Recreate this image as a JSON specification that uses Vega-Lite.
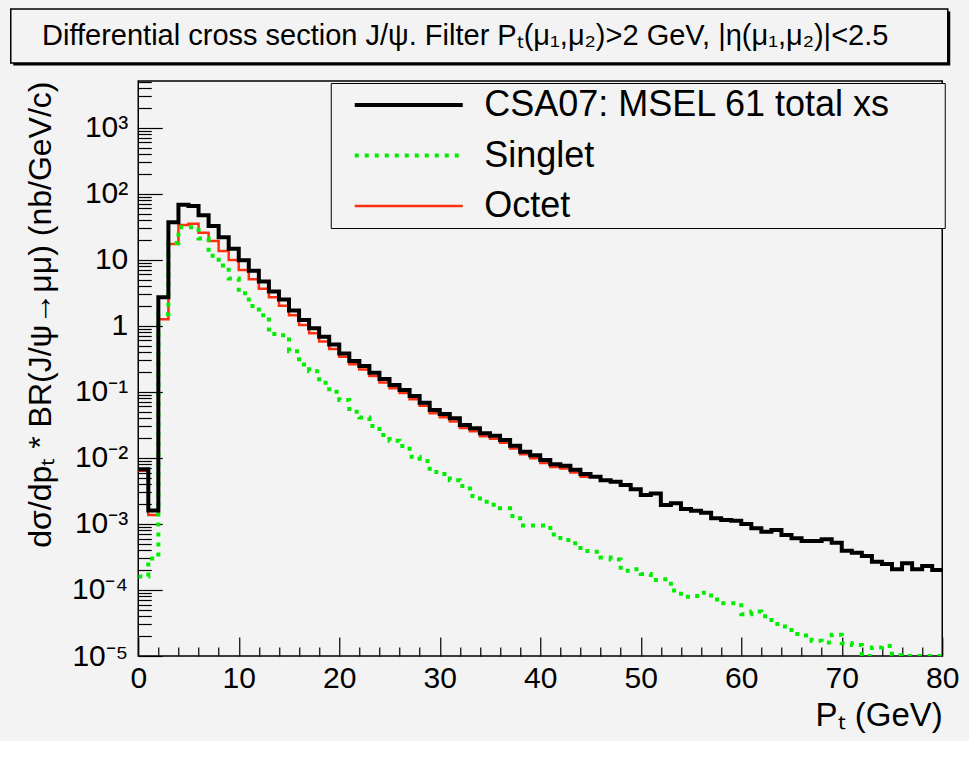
{
  "$schema": "https://vega.github.io/schema/vega-lite/v6.json",
  "background": "#f3f3f3",
  "padding": {"left": 9.25, "top": 8, "right": 0, "bottom": 8},
  "spacing": 14,
  "config": {
    "font": "Liberation Sans",
    "view": {"stroke": "#000000", "strokeWidth": 1.5, "fill": null},
    "axis": {"labelColor": "#000000", "titleColor": "#000000", "tickColor": "#000000", "titleFontWeight": "normal", "grid": false, "domain": false, "labelFont": "Liberation Sans", "titleFont": "Liberation Sans"},
    "legend": {"orient": "none", "legendX": 192.5, "legendY": 74, "fillColor": "#f3f3f3", "strokeColor": "#000000", "padding": 4, "symbolType": "stroke", "symbolSize": 11664, "symbolStrokeWidth": 4, "symbolOffset": 56, "labelFontSize": 36, "labelFont": "Liberation Sans", "labelColor": "#000000", "labelOffset": 57.5, "rowPadding": 14.5, "labelLimit": 0}
  },
  "vconcat": [
    {
      "width": 937,
      "height": 54,
      "data": {"values": [{"t": "Differential cross section J/ψ. Filter Pₜ(μ₁,μ₂)>2 GeV, |η(μ₁,μ₂)|<2.5"}]},
      "view": {"stroke": null},
      "encoding": {
        "x": {"datum": 0, "type": "quantitative", "scale": {"domain": [0, 1], "range": [-127.5, 809.5], "nice": false, "zero": false}, "axis": null},
        "x2": {"datum": 1},
        "y": {"datum": 0, "type": "quantitative", "scale": {"domain": [0, 1], "nice": false, "zero": false}, "axis": null},
        "y2": {"datum": 1}
      },
      "layer": [
        {"mark": {"type": "rect", "fill": "#000000", "xOffset": 2.5, "x2Offset": 2.5, "yOffset": 2.5, "y2Offset": 2.5}},
        {"mark": {"type": "rect", "fill": "#f3f3f3", "stroke": "#000000", "strokeWidth": 1.5}},
        {"mark": {"type": "text", "fontSize": 29, "font": "Liberation Sans", "color": "#000000", "dx": -14},
          "encoding": {"x": {"datum": 0.5, "type": "quantitative"}, "y": {"datum": 0.5, "type": "quantitative"}, "x2": null, "y2": null, "text": {"field": "t", "type": "nominal"}}}
      ]
    },
    {
      "width": 804,
      "height": 575,
      "data": {"values": [
        {"lo":0,"hi":1,"total":0.0067,"singlet":0.00016,"octet":0.0064},
        {"lo":1,"hi":2,"total":0.0016,"singlet":0.0003,"octet":0.00136},
        {"lo":2,"hi":3,"total":2.7,"singlet":1.5,"octet":1.26},
        {"lo":3,"hi":4,"total":37,"singlet":18,"octet":17.3},
        {"lo":4,"hi":5,"total":68,"singlet":31,"octet":33.6},
        {"lo":5,"hi":6,"total":65,"singlet":31,"octet":35.2},
        {"lo":6,"hi":7,"total":47,"singlet":21,"octet":25.7},
        {"lo":7,"hi":8,"total":32.5,"singlet":11.5,"octet":19.2},
        {"lo":8,"hi":9,"total":21.9,"singlet":8.2,"octet":13.6},
        {"lo":9,"hi":10,"total":14.7,"singlet":5.2,"octet":9.9},
        {"lo":10,"hi":11,"total":9.8,"singlet":3.1,"octet":7.0},
        {"lo":11,"hi":12,"total":6.8,"singlet":2.0,"octet":5.06},
        {"lo":12,"hi":13,"total":4.7,"singlet":1.45,"octet":3.65},
        {"lo":13,"hi":14,"total":3.3,"singlet":0.75,"octet":2.7},
        {"lo":14,"hi":15,"total":2.5,"singlet":0.72,"octet":2.02},
        {"lo":15,"hi":16,"total":1.7,"singlet":0.41,"octet":1.44},
        {"lo":16,"hi":17,"total":1.22,"singlet":0.26,"octet":1.03},
        {"lo":17,"hi":18,"total":0.92,"singlet":0.205,"octet":0.77},
        {"lo":18,"hi":19,"total":0.68,"singlet":0.137,"octet":0.58},
        {"lo":19,"hi":20,"total":0.52,"singlet":0.1,"octet":0.445},
        {"lo":20,"hi":21,"total":0.38,"singlet":0.075,"octet":0.34},
        {"lo":21,"hi":22,"total":0.293,"singlet":0.05,"octet":0.262},
        {"lo":22,"hi":23,"total":0.246,"singlet":0.041,"octet":0.218},
        {"lo":23,"hi":24,"total":0.195,"singlet":0.0304,"octet":0.174},
        {"lo":24,"hi":25,"total":0.156,"singlet":0.0222,"octet":0.139},
        {"lo":25,"hi":26,"total":0.127,"singlet":0.0182,"octet":0.113},
        {"lo":26,"hi":27,"total":0.107,"singlet":0.0151,"octet":0.096},
        {"lo":27,"hi":28,"total":0.0865,"singlet":0.0104,"octet":0.077},
        {"lo":28,"hi":29,"total":0.0686,"singlet":0.009,"octet":0.0615},
        {"lo":29,"hi":30,"total":0.053,"singlet":0.0061,"octet":0.0475},
        {"lo":30,"hi":31,"total":0.046,"singlet":0.0057,"octet":0.0412},
        {"lo":31,"hi":32,"total":0.0398,"singlet":0.0046,"octet":0.0356},
        {"lo":32,"hi":33,"total":0.0315,"singlet":0.00375,"octet":0.0284},
        {"lo":33,"hi":34,"total":0.028,"singlet":0.00265,"octet":0.0252},
        {"lo":34,"hi":35,"total":0.0236,"singlet":0.00217,"octet":0.0213},
        {"lo":35,"hi":36,"total":0.0217,"singlet":0.00195,"octet":0.0195},
        {"lo":36,"hi":37,"total":0.0187,"singlet":0.00172,"octet":0.0169},
        {"lo":37,"hi":38,"total":0.0153,"singlet":0.00132,"octet":0.0139},
        {"lo":38,"hi":39,"total":0.0124,"singlet":0.00095,"octet":0.0113},
        {"lo":39,"hi":40,"total":0.011,"singlet":0.00095,"octet":0.0099},
        {"lo":40,"hi":41,"total":0.0093,"singlet":0.00095,"octet":0.0084},
        {"lo":41,"hi":42,"total":0.008,"singlet":0.00069,"octet":0.0073},
        {"lo":42,"hi":43,"total":0.0076,"singlet":0.00057,"octet":0.0069},
        {"lo":43,"hi":44,"total":0.0066,"singlet":0.00051,"octet":0.006},
        {"lo":44,"hi":45,"total":0.0057,"singlet":0.00039,"octet":0.0052},
        {"lo":45,"hi":46,"total":0.0052,"singlet":0.00038},
        {"lo":46,"hi":47,"total":0.0046,"singlet":0.00031},
        {"lo":47,"hi":48,"total":0.00435,"singlet":0.00029},
        {"lo":48,"hi":49,"total":0.0039,"singlet":0.000196},
        {"lo":49,"hi":50,"total":0.00334,"singlet":0.000205},
        {"lo":50,"hi":51,"total":0.00274,"singlet":0.000175},
        {"lo":51,"hi":52,"total":0.0029,"singlet":0.000142},
        {"lo":52,"hi":53,"total":0.00194,"singlet":0.000145},
        {"lo":53,"hi":54,"total":0.00205,"singlet":0.000098},
        {"lo":54,"hi":55,"total":0.00168,"singlet":0.000079},
        {"lo":55,"hi":56,"total":0.00158,"singlet":0.000081},
        {"lo":56,"hi":57,"total":0.00148,"singlet":0.000091},
        {"lo":57,"hi":58,"total":0.00122,"singlet":0.000072},
        {"lo":58,"hi":59,"total":0.00115,"singlet":0.000063},
        {"lo":59,"hi":60,"total":0.00112,"singlet":0.000063},
        {"lo":60,"hi":61,"total":0.001,"singlet":0.000043},
        {"lo":61,"hi":62,"total":0.00086,"singlet":0.000047},
        {"lo":62,"hi":63,"total":0.00076,"singlet":0.00004},
        {"lo":63,"hi":64,"total":0.00081,"singlet":0.0000305},
        {"lo":64,"hi":65,"total":0.00068,"singlet":0.000028},
        {"lo":65,"hi":66,"total":0.000605,"singlet":0.0000215},
        {"lo":66,"hi":67,"total":0.00055,"singlet":0.0000205},
        {"lo":67,"hi":68,"total":0.00055,"singlet":0.000017},
        {"lo":68,"hi":69,"total":0.000585,"singlet":0.000016},
        {"lo":69,"hi":70,"total":0.00052,"singlet":0.000021},
        {"lo":70,"hi":71,"total":0.000393,"singlet":0.0000156},
        {"lo":71,"hi":72,"total":0.000366,"singlet":0.0000147},
        {"lo":72,"hi":73,"total":0.000327,"singlet":0.00001},
        {"lo":73,"hi":74,"total":0.000268,"singlet":0.0000135},
        {"lo":74,"hi":75,"total":0.000247,"singlet":0.0000142},
        {"lo":75,"hi":76,"total":0.000206,"singlet":0.0000103},
        {"lo":76,"hi":77,"total":0.000253,"singlet":0.00001},
        {"lo":77,"hi":78,"total":0.000206,"singlet":0.00001},
        {"lo":78,"hi":79,"total":0.00023,"singlet":0.00001},
        {"lo":79,"hi":80,"total":0.0002,"singlet":0.00001}
      ]},
      "transform": [
        {"fold": ["total", "singlet", "octet"], "as": ["series", "value"]},
        {"filter": "isValid(datum.value)"},
        {"fold": ["lo", "hi"], "as": ["edge", "pt"]}
      ],
      "encoding": {
        "color": {"field": "series", "type": "nominal", "scale": {"domain": ["total", "singlet", "octet"], "range": ["#000000", "#00ee00", "#ff3010"]}, "legend": {"title": null, "labelExpr": "datum.label == 'total' ? 'CSA07: MSEL 61 total xs\u00a0\u00a0\u00a0\u00a0\u00a0\u200b' : datum.label == 'singlet' ? 'Singlet' : 'Octet'", "encode": {"symbols": {"update": {"strokeWidth": {"signal": "datum.value == 'octet' ? 2.5 : 4"}}}}}},
        "strokeDash": {"field": "series", "type": "nominal", "scale": {"domain": ["total", "singlet", "octet"], "range": [[1, 0], [4, 6], [1, 0]]}, "legend": {"title": null, "labelExpr": "datum.label == 'total' ? 'CSA07: MSEL 61 total xs\u00a0\u00a0\u00a0\u00a0\u00a0\u200b' : datum.label == 'singlet' ? 'Singlet' : 'Octet'"}},
        "order": [{"field": "lo", "type": "quantitative"}, {"field": "edge", "type": "nominal", "sort": "descending"}]
      },
      "layer": [
        {
          "transform": [{"filter": "datum.series == 'octet'"}],
          "mark": {"type": "line", "clip": true, "strokeWidth": 2.5, "strokeCap": "butt", "strokeJoin": "miter"},
          "encoding": {
            "x": {"field": "pt", "type": "quantitative", "scale": {"domain": [0, 80], "nice": false, "zero": false},
              "axis": {"orient": "bottom", "values": [0, 10, 20, 30, 40, 50, 60, 70, 80], "tickSize": -19, "tickWidth": 1.2, "labelPadding": 26, "labelFontSize": 30, "labelFlush": false, "labelOverlap": false, "title": "Pₜ (GeV)", "titleAnchor": "end", "titleFontSize": 33, "titlePadding": 6}},
            "y": {"field": "value", "type": "quantitative", "scale": {"type": "log", "domain": [0.00001, 5090], "nice": false},
              "axis": {"orient": "left", "values": [0.00001, 0.0001, 0.001, 0.01, 0.1, 1, 10, 100, 1000], "tickSize": -24, "tickWidth": 1.2, "labelPadding": 34.5, "labelFontSize": 30, "labelFlush": false, "labelOverlap": false,
                "labelExpr": "datum.value >= 999 ? '10³' : datum.value >= 99 ? '10²' : datum.value >= 9 ? '10' : datum.value >= 0.9 ? '1' : datum.value >= 0.09 ? '10⁻¹' : datum.value >= 0.009 ? '10⁻²' : datum.value >= 0.0009 ? '10⁻³' : datum.value >= 0.00009 ? '10⁻⁴' : '10⁻⁵'",
                "title": "dσ/dpₜ * BR(J/ψ→μμ) (nb/GeV/c)", "titleAnchor": "end", "titleFontSize": 32, "titlePadding": 14}}
          }
        },
        {
          "transform": [{"filter": "datum.series == 'singlet'"}],
          "mark": {"type": "line", "clip": true, "strokeWidth": 4, "strokeCap": "butt", "strokeJoin": "miter"},
          "encoding": {
            "x": {"field": "pt", "type": "quantitative",
              "axis": {"orient": "bottom", "values": [2, 4, 6, 8, 12, 14, 16, 18, 22, 24, 26, 28, 32, 34, 36, 38, 42, 44, 46, 48, 52, 54, 56, 58, 62, 64, 66, 68, 72, 74, 76, 78], "tickSize": -9, "tickWidth": 1.2, "labels": false, "title": null}},
            "y": {"field": "value", "type": "quantitative",
              "axis": {"orient": "left", "values": [0.00002, 0.00003, 0.00004, 0.00005, 0.00006, 0.00007, 0.00008, 0.00009, 0.0002, 0.0003, 0.0004, 0.0005, 0.0006, 0.0007, 0.0008, 0.0009, 0.002, 0.003, 0.004, 0.005, 0.006, 0.007, 0.008, 0.009, 0.02, 0.03, 0.04, 0.05, 0.06, 0.07, 0.08, 0.09, 0.2, 0.3, 0.4, 0.5, 0.6, 0.7, 0.8, 0.9, 2, 3, 4, 5, 6, 7, 8, 9, 20, 30, 40, 50, 60, 70, 80, 90, 200, 300, 400, 500, 600, 700, 800, 900, 2000, 3000, 4000, 5000], "tickSize": -13, "tickWidth": 1.2, "labels": false, "title": null}}
          }
        },
        {
          "transform": [{"filter": "datum.series == 'total'"}],
          "mark": {"type": "line", "clip": true, "strokeWidth": 4, "strokeCap": "butt", "strokeJoin": "miter"},
          "encoding": {
            "x": {"field": "pt", "type": "quantitative", "axis": null},
            "y": {"field": "value", "type": "quantitative", "axis": null}
          }
        }
      ],
      "resolve": {"axis": {"x": "independent", "y": "independent"}}
    }
  ]
}
